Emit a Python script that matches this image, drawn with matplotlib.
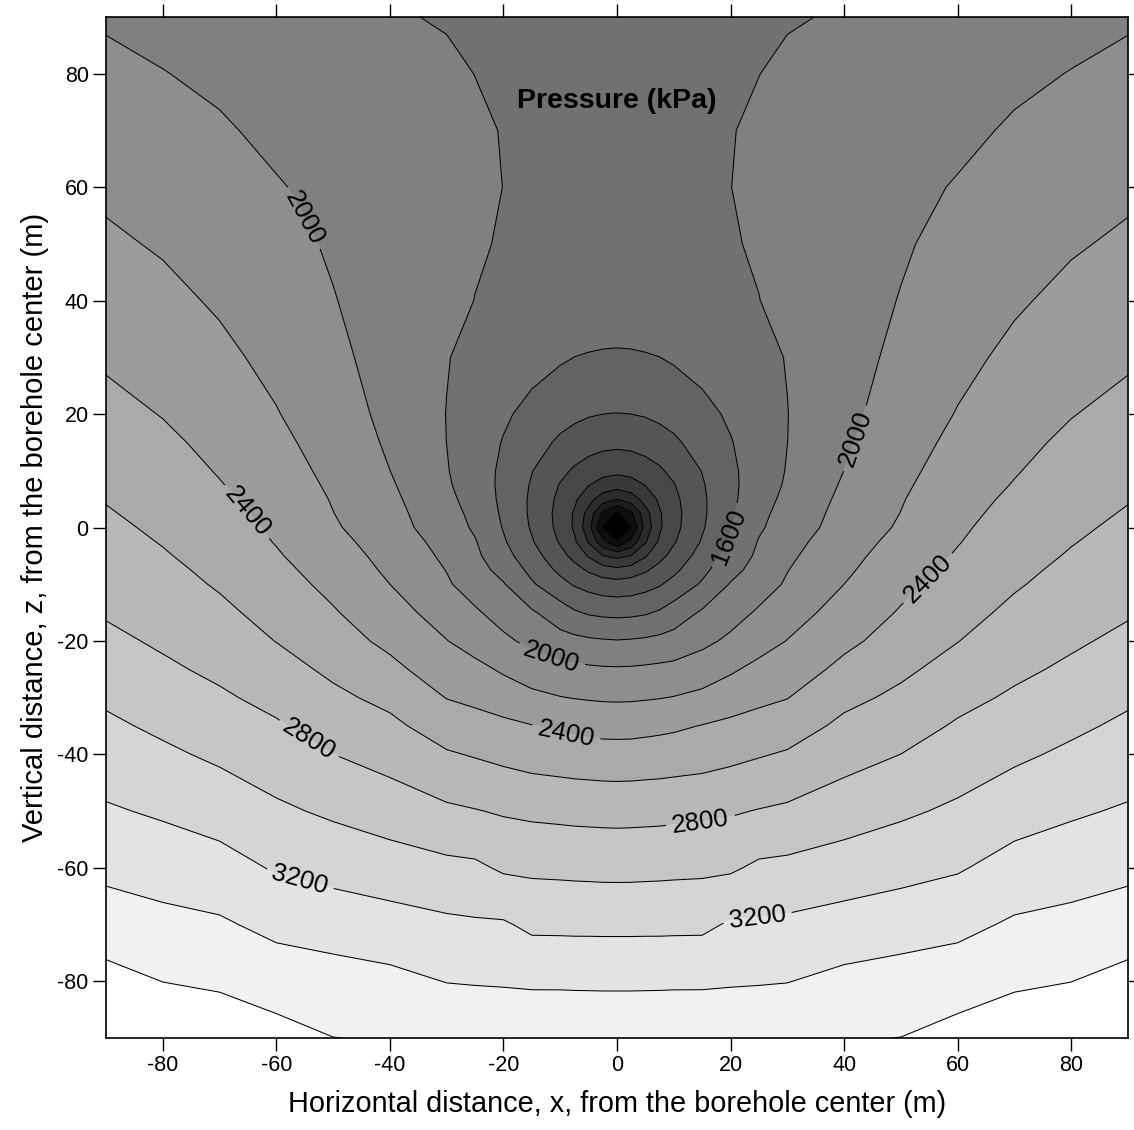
import numpy as np
import matplotlib
matplotlib.use("Agg")
import matplotlib.pyplot as plt

plt.rcParams['font.family'] = ['Liberation Sans', 'DejaVu Sans']
plt.rcParams['axes.unicode_minus'] = False

# Half-grid (x >= 0); field is symmetric about x = 0
x_half = [0, 2.5, 5, 7.5, 10, 15, 20, 25, 30, 40, 50, 60, 70, 80, 90]
z_rows = [90, 80, 70, 60, 50, 40, 30, 20, 15, 10, 7.5, 5, 2.5, 0, -2.5, -5,
          -7.5, -10, -15, -20, -25, -30, -35, -40, -50, -60, -70, -80, -90]

# Pressure (kPa) at the grid nodes, one row per z value, columns follow x_half
p_half = [
    [1765, 1768, 1770, 1773, 1775, 1781, 1786, 1790, 1792, 1809, 1845, 1876, 1914, 1947, 1980],
    [1755, 1760, 1764, 1769, 1773, 1782, 1791, 1799, 1818, 1857, 1896, 1926, 1967, 2005, 2042],
    [1745, 1752, 1759, 1766, 1773, 1786, 1796, 1816, 1837, 1881, 1924, 1964, 2019, 2064, 2104],
    [1735, 1743, 1751, 1759, 1767, 1784, 1799, 1826, 1852, 1905, 1957, 2011, 2072, 2122, 2165],
    [1720, 1728, 1737, 1746, 1755, 1773, 1790, 1814, 1847, 1914, 1981, 2054, 2125, 2181, 2231],
    [1700, 1705, 1711, 1718, 1725, 1745, 1766, 1798, 1839, 1923, 2007, 2097, 2177, 2248, 2303],
    [1580, 1582, 1589, 1599, 1621, 1668, 1715, 1762, 1806, 1930, 2042, 2150, 2242, 2321, 2374],
    [1396, 1400, 1415, 1440, 1471, 1546, 1627, 1713, 1797, 1952, 2090, 2209, 2315, 2393, 2457],
    [1250, 1259, 1285, 1324, 1368, 1480, 1590, 1695, 1799, 1974, 2119, 2246, 2352, 2435, 2502],
    [1045, 1065, 1113, 1173, 1250, 1406, 1565, 1690, 1811, 2001, 2150, 2288, 2388, 2480, 2546],
    [889, 924, 1007, 1105, 1189, 1382, 1559, 1696, 1825, 2022, 2169, 2308, 2409, 2502, 2569],
    [600, 699, 875, 1035, 1153, 1368, 1560, 1717, 1851, 2042, 2188, 2329, 2434, 2524, 2591],
    [163, 362, 726, 979, 1134, 1366, 1570, 1748, 1877, 2060, 2203, 2349, 2458, 2546, 2614],
    [0, 194, 673, 972, 1141, 1380, 1589, 1774, 1897, 2077, 2224, 2370, 2483, 2568, 2638],
    [228, 457, 782, 1033, 1180, 1417, 1622, 1812, 1933, 2112, 2256, 2391, 2508, 2591, 2662],
    [745, 807, 981, 1142, 1263, 1482, 1669, 1840, 1965, 2139, 2291, 2417, 2533, 2615, 2687],
    [1054, 1095, 1176, 1269, 1357, 1550, 1736, 1880, 1995, 2168, 2322, 2447, 2558, 2641, 2711],
    [1275, 1290, 1330, 1382, 1462, 1623, 1813, 1919, 2021, 2200, 2352, 2477, 2582, 2667, 2735],
    [1552, 1560, 1580, 1623, 1693, 1824, 1927, 2024, 2115, 2279, 2416, 2537, 2639, 2720, 2783],
    [1809, 1817, 1830, 1850, 1872, 1954, 2036, 2117, 2205, 2357, 2480, 2596, 2701, 2773, 2842],
    [2019, 2022, 2031, 2042, 2055, 2100, 2173, 2255, 2300, 2447, 2563, 2671, 2762, 2832, 2906],
    [2175, 2178, 2185, 2194, 2207, 2246, 2311, 2360, 2395, 2551, 2640, 2747, 2827, 2899, 2971],
    [2333, 2335, 2345, 2357, 2370, 2407, 2440, 2471, 2507, 2643, 2720, 2821, 2897, 2965, 3035],
    [2475, 2477, 2484, 2490, 2500, 2518, 2551, 2586, 2619, 2727, 2801, 2891, 2966, 3034, 3096],
    [2737, 2739, 2742, 2745, 2751, 2762, 2781, 2809, 2833, 2906, 2969, 3033, 3118, 3175, 3221],
    [2946, 2947, 2950, 2953, 2957, 2963, 2974, 3035, 3048, 3092, 3137, 3182, 3273, 3314, 3352],
    [3155, 3155, 3156, 3156, 3158, 3160, 3221, 3224, 3237, 3277, 3311, 3348, 3426, 3455, 3501],
    [3368, 3368, 3369, 3370, 3372, 3372, 3381, 3387, 3395, 3451, 3482, 3510, 3572, 3598, 3661],
    [3555, 3555, 3556, 3556, 3557, 3560, 3562, 3565, 3570, 3590, 3602, 3668, 3718, 3745, 3821],
]

contour_levels = [0, 200, 400, 600, 800, 1000, 1200, 1400, 1600, 1800, 2000, 2200,
                  2400, 2600, 2800, 3000, 3200, 3400, 3600, 4000]
labelled_levels = [1600, 2000, 2400, 2800, 3200]
label_points = [(-55.6, 54.3), (-65.5, 2.5), (-54.1, -37.0), (-55.9, -62.4),
                (-11.5, -22.7), (-8.9, -35.9), (14.7, -51.5), (24.7, -68.6),
                (19.3, -1.5), (41.7, 15.8), (54.7, -8.9)]
x_ticks = [-80, -60, -40, -20, 0, 20, 40, 60, 80]
z_ticks = [-80, -60, -40, -20, 0, 20, 40, 60, 80]

# Mirror the half grid to the full symmetric grid
xh = np.array(x_half, dtype=float)
x_full = np.concatenate([-xh[::-1], xh[1:]])
ph = np.array(p_half, dtype=float)
p_full = np.hstack([ph[:, ::-1], ph[:, 1:]])
z_arr = np.array(z_rows, dtype=float)

fig = plt.figure(figsize=(11.34, 11.30), dpi=100)
ax = fig.add_axes([106 / 1134, 1 - 1038 / 1130, (1128 - 106) / 1134, (1038 - 17) / 1130])

band_colors = [str(min(lv / 3600.0, 1.0)) for lv in contour_levels[:-1]]
ax.contourf(x_full, z_arr, p_full, levels=contour_levels, colors=band_colors)
plain_levels = [lv for lv in contour_levels[1:-1] if lv not in labelled_levels]
ax.contour(x_full, z_arr, p_full, levels=plain_levels,
           colors='black', linewidths=0.75)
cs_lab = ax.contour(x_full, z_arr, p_full, levels=labelled_levels,
                    colors='black', linewidths=0.75)
ax.clabel(cs_lab, manual=label_points, fmt='%d',
          fontsize=18.5, inline=True, inline_spacing=6)

ax.text(0, 75.2, 'Pressure (kPa)', ha='center', va='center',
        fontsize=20.5, fontweight='bold')

ax.set_xlim(-90, 90)
ax.set_ylim(-90, 90)
ax.set_xticks(x_ticks)
ax.set_yticks(z_ticks)
ax.tick_params(direction='out', length=9.5, width=1.0, top=True, right=True,
               labelsize=15.5, pad=3)
for sp in ax.spines.values():
    sp.set_linewidth(1.2)

ax.set_xlabel('Horizontal distance, x, from the borehole center (m)', fontsize=20.8, labelpad=10)
ax.set_ylabel('Vertical distance, z, from the borehole center (m)', fontsize=21, labelpad=6)

fig.savefig('out.png', dpi=100)
